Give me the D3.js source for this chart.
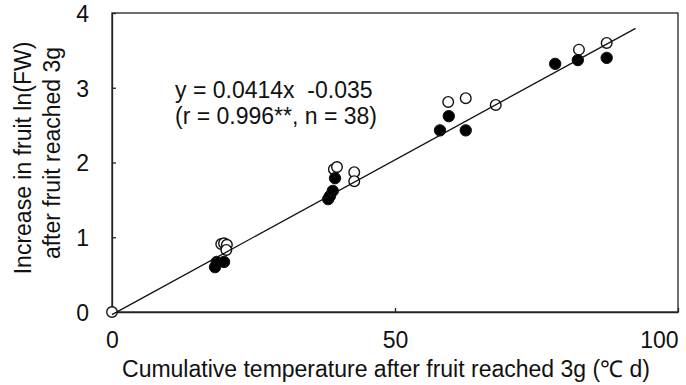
<!DOCTYPE html>
<html>
<head>
<meta charset="utf-8">
<script src="https://cdn.jsdelivr.net/npm/d3@7/dist/d3.min.js"></script>
<style>
  html, body { margin: 0; padding: 0; background: #fff; }
  svg { display: block; font-family: "Liberation Sans", Arial, sans-serif; }
</style>
</head>
<body>
<svg id="chart" width="686" height="385"></svg>
<script>
// Cumulative temperature (°C d) and increase in ln(FW), open and filled groups
const openX = [0, 19.3, 19.8, 20.3, 20.2, 39.2, 39.75, 42.8, 42.8, 59.4, 62.5, 67.8, 82.5, 87.4];
const openY = [0, 0.91, 0.92, 0.90, 0.83, 1.91, 1.94, 1.87, 1.75, 2.81, 2.86, 2.77, 3.51, 3.60];
const filledX = [18.2, 18.5, 19.8, 38.2, 38.5, 39.0, 39.4, 57.95, 59.5, 62.5, 78.3, 82.3, 87.4];
const filledY = [0.60, 0.67, 0.67, 1.51, 1.55, 1.62, 1.79, 2.43, 2.62, 2.43, 3.32, 3.37, 3.40];

const xTicks = [0, 50, 100];
const yTicks = [0, 1, 2, 3, 4];

// Regression: y = 0.0414x - 0.035
const slope = 0.0414, intercept = -0.035;
const fitRange = [0, 92.5];

const FONT = 23;
const svg = d3.select("#chart");
const plot = { left: 112, right: 678, top: 13, bottom: 312 };

const x = d3.scaleLinear().domain([0, 100]).range([plot.left, plot.right]);
const y = d3.scaleLinear().domain([0, 4]).range([plot.bottom, plot.top]);

// frame
svg.append("rect")
  .attr("x", plot.left).attr("y", plot.top)
  .attr("width", plot.right - plot.left).attr("height", plot.bottom - plot.top)
  .attr("fill", "none").attr("stroke", "#222").attr("stroke-width", 1.3);

// axes with inward ticks
const xAxis = svg.append("g").attr("transform", `translate(0,${plot.bottom})`)
  .call(d3.axisBottom(x).tickValues(xTicks).tickFormat(d3.format("d"))
    .tickSizeInner(-4).tickSizeOuter(0));
const yAxis = svg.append("g").attr("transform", `translate(${plot.left},0)`)
  .call(d3.axisLeft(y).tickValues(yTicks).tickFormat(d3.format("d"))
    .tickSizeInner(-4).tickSizeOuter(0));
[xAxis, yAxis].forEach(g => {
  g.select(".domain").attr("stroke", "#222").attr("stroke-width", 1.3);
  g.selectAll(".tick line").attr("stroke", "#222").attr("stroke-width", 1.3);
  g.selectAll(".tick text").attr("fill", "#111").attr("font-size", FONT)
    .attr("font-family", "Liberation Sans, Arial, sans-serif");
});
xAxis.selectAll(".tick text").attr("y", 36).attr("dy", 0);
xAxis.selectAll(".tick text").filter(d => d === 100).attr("text-anchor", "end").attr("x", 0);
yAxis.selectAll(".tick text").attr("x", -23).attr("dy", "0.36em");

// markers
const pts = (xs, ys) => xs.map((v, i) => ({ x: v, y: ys[i] }));
svg.append("g").selectAll("circle").data(pts(openX, openY)).join("circle")
  .attr("cx", d => x(d.x)).attr("cy", d => y(d.y)).attr("r", 5.3)
  .attr("fill", "#fff").attr("stroke", "#111").attr("stroke-width", 1.4);
svg.append("g").selectAll("circle").data(pts(filledX, filledY)).join("circle")
  .attr("cx", d => x(d.x)).attr("cy", d => y(d.y)).attr("r", 5.7)
  .attr("fill", "#000").attr("stroke", "#111").attr("stroke-width", 1);

// fitted line
svg.append("line")
  .attr("x1", x(fitRange[0])).attr("y1", y(slope * fitRange[0] + intercept))
  .attr("x2", x(fitRange[1])).attr("y2", y(slope * fitRange[1] + intercept))
  .attr("stroke", "#111").attr("stroke-width", 1.3);

// equation
const eq = svg.append("g").attr("font-size", FONT).attr("fill", "#111");
eq.append("text").attr("x", 175).attr("y", 98).attr("xml:space", "preserve")
  .style("white-space", "pre").text("y = 0.0414x  -0.035");
eq.append("text").attr("x", 175).attr("y", 124).attr("xml:space", "preserve")
  .style("white-space", "pre").text("(r = 0.996**, n = 38)");

// axis titles
svg.append("text").attr("x", (plot.left + plot.right) / 2 - 9).attr("y", 377)
  .attr("text-anchor", "middle").attr("font-size", FONT).attr("fill", "#111")
  .text("Cumulative temperature after fruit reached 3g (\u2103 d)");
const yt = svg.append("g")
  .attr("transform", `translate(0,158) rotate(-90)`)
  .attr("font-size", FONT).attr("fill", "#111").attr("text-anchor", "middle");
yt.append("text").attr("x", 0).attr("y", 31).text("Increase in fruit ln(FW)");
yt.append("text").attr("x", 5).attr("y", 60).text("after fruit reached 3g");
</script>
</body>
</html>
